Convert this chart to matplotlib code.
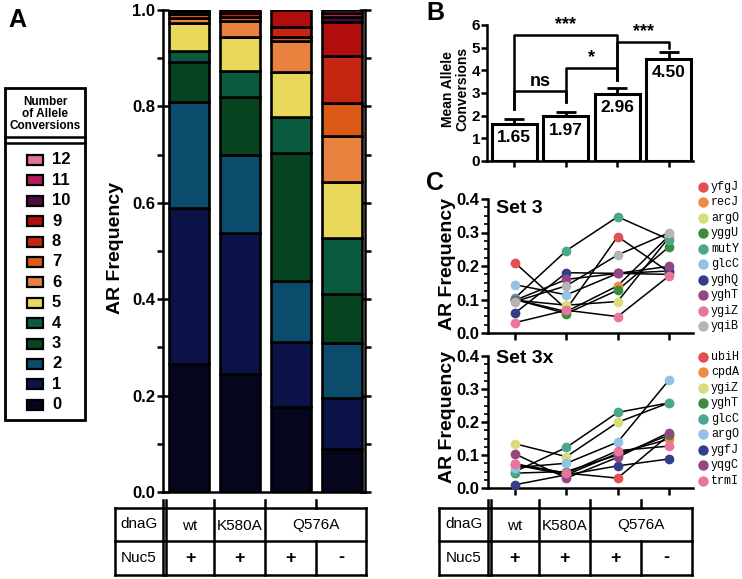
import numpy as np
import matplotlib
matplotlib.use("Agg")
import matplotlib.pyplot as plt
from matplotlib.patches import Rectangle
from matplotlib.ticker import MultipleLocator

plt.rcParams['font.family'] = ['Liberation Sans', 'DejaVu Sans']
plt.rcParams['axes.linewidth'] = 1.8

W, H = 742, 579

# ---- panel A: fraction of ARs by number of allele conversions ----
n_conv = list(range(13))
conv_colors = ['#05061e', '#0b1248', '#0b4b6c', '#05441f', '#0a5a3e', '#e9d95b', '#e9813f',
               '#dc5a18', '#c52611', '#b10d0c', '#4f0b40', '#b8195c', '#e1739c']
freq_wt = [0.265, 0.325, 0.22, 0.083, 0.021, 0.058, 0.011, 0.009, 0.004, 0.004, 0, 0, 0]
freq_k580a = [0.245, 0.292, 0.163, 0.12, 0.053, 0.07, 0.034, 0.009, 0.007, 0.007, 0, 0, 0]
freq_q576a = [0.176, 0.136, 0.125, 0.267, 0.073, 0.094, 0.065, 0.007, 0.021, 0.036, 0, 0, 0]
freq_q576a_nonuc = [0.09, 0.105, 0.115, 0.101, 0.116, 0.116, 0.095, 0.07, 0.097, 0.07, 0.01, 0.008, 0.007]

dnaG_labels = ['wt', 'K580A', 'Q576A']
dnaG_span = [1, 1, 2]
nuc5_labels = ['+', '+', '+', '-']

# ---- panel B ----
mean_conv = [1.65, 1.97, 2.96, 4.50]
sem_conv = [0.2, 0.2, 0.25, 0.3]
# left bar, right bar, bracket height, left leg bottom, right leg bottom, label
brackets = [(0, 2, 5.58, 2.3, 3.56, '***'),
            (0, 1, 3.07, 2.3, 2.6, 'ns'),
            (1, 2, 4.1, 2.6, 3.56, '*'),
            (2, 3, 5.26, 3.56, 5.0, '***')]

# ---- panel C ----
set3_genes = ['yfgJ', 'recJ', 'argO', 'yggU', 'mutY', 'glcC', 'yghQ', 'yghT', 'ygiZ', 'yqiB']
set3_colors = ['#e2504f', '#f08a3c', '#d9dc7a', '#3b8c3f', '#4ca58d', '#93c2e7',
               '#353d8a', '#954580', '#e9749e', '#b5b5b5']
set3_freq = [[0.209, 0.071, 0.288, 0.182],
             [0.100, 0.064, 0.141, 0.290],
             [0.098, 0.083, 0.094, 0.285],
             [0.100, 0.058, 0.128, 0.257],
             [0.105, 0.246, 0.347, 0.279],
             [0.144, 0.114, 0.178, 0.175],
             [0.060, 0.180, 0.178, 0.185],
             [0.098, 0.160, 0.178, 0.199],
             [0.031, 0.068, 0.049, 0.170],
             [0.094, 0.141, 0.233, 0.299]]

set3x_genes = ['ubiH', 'cpdA', 'ygiZ', 'yghT', 'glcC', 'argO', 'ygfJ', 'yqgC', 'trmI']
set3x_colors = ['#e2504f', '#f08a3c', '#d9dc7a', '#3b8c3f', '#4ca58d', '#93c2e7',
                '#353d8a', '#954580', '#e9749e']
set3x_freq = [[0.072, 0.045, 0.030, 0.160],
              [0.070, 0.040, 0.105, 0.148],
              [0.134, 0.095, 0.199, 0.258],
              [0.045, 0.050, 0.100, 0.160],
              [0.050, 0.123, 0.229, 0.258],
              [0.062, 0.075, 0.139, 0.327],
              [0.010, 0.040, 0.067, 0.088],
              [0.103, 0.030, 0.093, 0.168],
              [0.073, 0.045, 0.113, 0.127]]


fig = plt.figure(figsize=(W / 100, H / 100), dpi=100)


def add_ax(x0, y0, x1, y1):
    return fig.add_axes([x0 / W, 1 - y1 / H, (x1 - x0) / W, (y1 - y0) / H])


bold = dict(fontweight='bold')

# ---------------- panel A ----------------
axA = add_ax(163, 10, 365, 492)
freqs = np.array([freq_wt, freq_k580a, freq_q576a, freq_q576a_nonuc])
xA = np.arange(4)
bottom = np.zeros(4)
for k in n_conv:
    h = freqs[:, k]
    m = h > 0
    axA.bar(xA[m], h[m], 0.79, bottom=bottom[m], color=conv_colors[k],
            edgecolor='black', linewidth=1.9, zorder=2)
    bottom += h
axA.set_xlim(-0.52, 3.46)
axA.set_ylim(0, 1)
axA.spines['top'].set_visible(False)
axA.set_xticks([])
axA.set_yticks(np.arange(0, 1.01, 0.2))
axA.set_yticklabels([f'{v:.1f}' for v in np.arange(0, 1.01, 0.2)], fontsize=12, **bold)
axA.yaxis.set_minor_locator(MultipleLocator(0.1))
axA.tick_params(axis='y', which='major', direction='inout', length=9, width=1.8, right=True, pad=1)
axA.tick_params(axis='y', which='minor', direction='out', length=4, width=1.8, right=True)

# ---------------- panel B ----------------
axB = add_ax(487, 25, 693, 161)
xB = np.arange(4)
axB.bar(xB, mean_conv, 0.87, color='white', edgecolor='black', linewidth=2.2, zorder=2)
axB.errorbar(xB, mean_conv, yerr=[np.zeros(4), sem_conv], fmt='none', ecolor='black',
             elinewidth=2, capsize=7, capthick=2, zorder=3)
for x, v in zip(xB, mean_conv):
    axB.text(x, v - 0.28, f'{v:.2f}', ha='center', va='top', fontsize=12.5, zorder=4, **bold)
for i, j, y, li, lj, lab in brackets:
    axB.plot([i, i, j, j], [li, y, y, lj], color='black', lw=1.8, clip_on=False, zorder=3)
    axB.text((i + j) / 2, y + 0.08, lab, ha='center', va='bottom', fontsize=13, **bold)
axB.set_xlim(-0.53, 3.47)
axB.set_ylim(0, 6)
for s in ['top', 'right']:
    axB.spines[s].set_visible(False)
axB.set_xticks(xB)
axB.set_xticklabels([])
axB.set_yticks(range(7))
axB.set_yticklabels([str(v) for v in range(7)], fontsize=11, **bold)
axB.tick_params(axis='both', direction='out', length=4, width=1.8, pad=1)


# ---------------- panel C ----------------
def line_panel(ax, freq, colors, title, title_y):
    for vals in freq:
        ax.plot(xB, vals, color='black', lw=1.1, zorder=2, clip_on=False)
    for vals, c in zip(freq, colors):
        ax.plot(xB, vals, 'o', color=c, ms=7, mec='none', zorder=3, clip_on=False)
    ax.set_xlim(-0.53, 3.47)
    ax.set_ylim(0, 0.4)
    for s in ['top', 'right']:
        ax.spines[s].set_visible(False)
    ax.set_xticks(xB)
    ax.set_xticklabels([])
    ax.set_yticks(np.arange(0, 0.41, 0.1))
    ax.set_yticklabels([f'{v:.1f}' for v in np.arange(0, 0.41, 0.1)], fontsize=12, **bold)
    ax.yaxis.set_minor_locator(MultipleLocator(0.025))
    ax.tick_params(axis='both', which='major', direction='out', length=5, width=1.8, pad=1)
    ax.tick_params(axis='y', which='minor', direction='out', length=3, width=1.2)
    ax.text(0.04, title_y, title, transform=ax.transAxes, ha='left', va='center',
            fontsize=14, **bold)


axC1 = add_ax(488, 199, 693, 333)
line_panel(axC1, set3_freq, set3_colors, 'Set 3', 0.93)
axC2 = add_ax(488, 356, 693, 488)
line_panel(axC2, set3x_freq, set3x_colors, 'Set 3x', 0.98)

# ---------------- overlay: labels, legends, tables ----------------
ov = fig.add_axes([0, 0, 1, 1], zorder=5)
ov.set_xlim(0, W)
ov.set_ylim(H, 0)
ov.axis('off')

ov.text(17, 20, 'A', ha='center', va='center', fontsize=18, **bold)
ov.text(435, 13, 'B', ha='center', va='center', fontsize=18, **bold)
ov.text(435, 183, 'C', ha='center', va='center', fontsize=18, **bold)

ov.text(115, 248, 'AR Frequency', rotation=90, ha='center', va='center', fontsize=14, **bold)
ov.text(455, 89, 'Mean Allele\nConversions', rotation=90, ha='center', va='center',
        fontsize=10, linespacing=1.0, **bold)
ov.text(447, 264, 'AR Frequency', rotation=90, ha='center', va='center', fontsize=14, **bold)
ov.text(447, 417, 'AR Frequency', rotation=90, ha='center', va='center', fontsize=14, **bold)

# legend box for panel A
ov.add_patch(Rectangle((5, 88), 80, 332, fill=False, ec='black', lw=2))
ov.text(45, 114, 'Number\nof Allele\nConversions', ha='center', va='center',
        fontsize=8.5, linespacing=1.05, **bold)
ov.plot([5, 85], [137, 137], color='black', lw=1.8)
ov.plot([5, 85], [143, 143], color='black', lw=1.8)
for row, k in enumerate(n_conv[::-1]):
    y = 160 + row * 20.4
    ov.add_patch(Rectangle((27, y - 5), 16, 10, fc=conv_colors[k], ec='black', lw=1.6))
    ov.text(52, y, str(k), ha='left', va='center', fontsize=12, **bold)

# gene legends for panel C
for y0, genes, colors in [(187, set3_genes, set3_colors), (357, set3x_genes, set3x_colors)]:
    for i, (g, c) in enumerate(zip(genes, colors)):
        y = y0 + i * 15.45
        ov.plot(703, y, 'o', color=c, ms=7.5, mec='none')
        ov.text(711, y, g, ha='left', va='center', fontsize=8.5, family='Liberation Mono')


def draw_table(left, dbl, edges, top=508, mid=541, bot=575, stub=500):
    lw = 1.8
    right = edges[-1]
    for y in (top, mid, bot):
        ov.plot([left, right], [y, y], color='black', lw=lw)
    ov.plot([left, left], [top, bot], color='black', lw=lw)
    ov.plot([right, right], [top, bot], color='black', lw=lw)
    for x in (dbl, dbl + 3):
        ov.plot([x, x], [stub, bot], color='black', lw=lw)
    ov.plot([edges[1], edges[1]], [stub, bot], color='black', lw=lw)
    ov.plot([edges[2], edges[2]], [stub, bot], color='black', lw=lw)
    ov.plot([edges[3], edges[3]], [stub, top], color='black', lw=lw)
    ov.plot([edges[3], edges[3]], [mid, bot], color='black', lw=lw)
    ov.text((left + dbl) / 2, (top + mid) / 2, 'dnaG', ha='center', va='center', fontsize=11)
    ov.text((left + dbl) / 2, (mid + bot) / 2, 'Nuc5', ha='center', va='center', fontsize=11)
    col = 0
    for lab, span in zip(dnaG_labels, dnaG_span):
        xc = (edges[col] + edges[col + span]) / 2
        ov.text(xc, (top + mid) / 2 + 1, lab, ha='center', va='center', fontsize=11)
        col += span
    for c, lab in enumerate(nuc5_labels):
        xc = (edges[c] + edges[c + 1]) / 2
        ov.text(xc, (mid + bot) / 2, lab, ha='center', va='center', fontsize=13, **bold)


draw_table(115, 163, [166, 214, 265, 316, 366])
draw_table(439, 488, [491, 539, 590, 641, 692])

fig.savefig('out.png', dpi=100)
